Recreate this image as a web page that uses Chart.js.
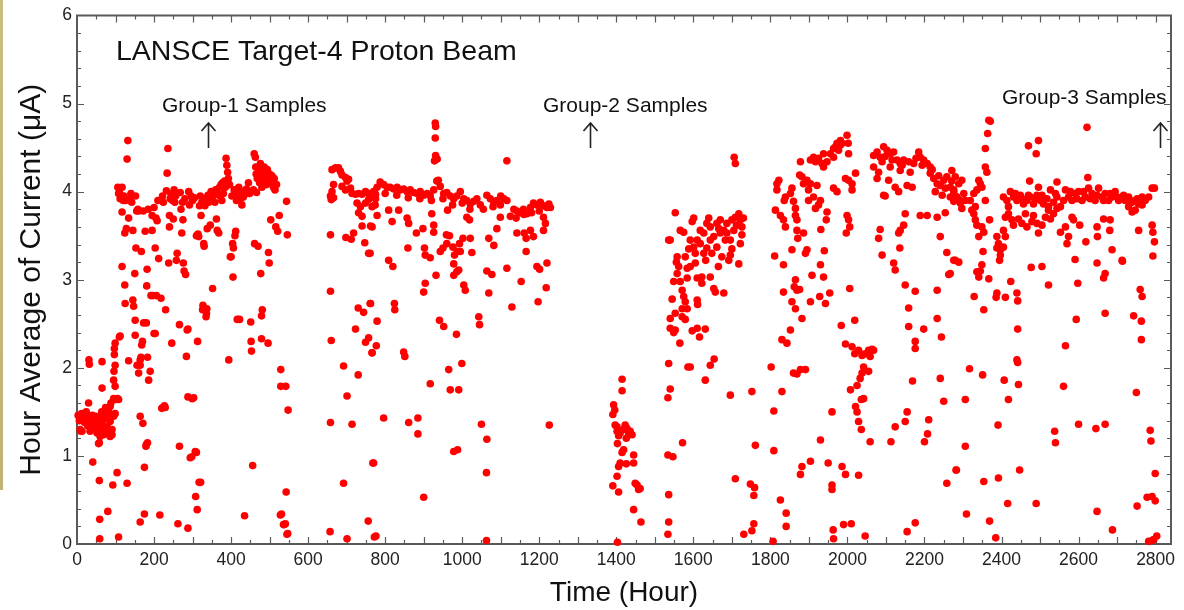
<!DOCTYPE html>
<html>
<head>
<meta charset="utf-8">
<script src="https://cdn.jsdelivr.net/npm/chart.js@4"></script>
<style>
html,body{margin:0;padding:0;background:#fff;}
#wrap{width:1184px;height:610px;position:relative;}
</style>
</head>
<body>
<div id="wrap"><canvas id="c" width="1184" height="610"></canvas></div>
<script>
// ---- data: [hour, hour-average current (uA)] ----
const run1 = [[3,1.46],[6,1.40],[8,1.30],[10,1.28],[12,1.48],[13,1.28],[15,1.44],[17,1.43],[20,1.38],[22,1.39],[24,1.50],[26,1.47],[28,1.34],[30,1.37],[30,1.60],[31,2.09],[32,2.04],[34,1.45],[34,1.28],[36,1.40],[38,1.32],[40,1.46],[41,0.93],[43,1.41],[43,1.33],[46,1.38],[48,1.45],[50,1.30],[52,1.43],[52,1.26],[54,1.35],[56,1.33],[56,1.14],[58,1.15],[58,0.72],[59,0.28],[59,0.06],[60,1.45],[60,1.22],[62,1.40],[64,1.50],[65,1.37],[65,1.77],[65,2.07],[67,1.30],[69,1.48],[69,1.24],[70,1.28],[72,1.42],[74,1.55],[76,1.45],[78,1.52],[78,1.33],[80,0.37],[82,1.50],[84,1.27],[86,1.56],[86,1.39],[86,1.22],[88,1.60],[91,1.30],[91,1.24],[93,0.67],[95,1.45],[95,1.65],[95,1.86],[96,1.96],[97,2.15],[97,2.22],[99,1.48],[99,1.79],[99,2.03],[99,2.28],[101,1.64],[104,0.81],[105,1.65],[108,0.08],[108,1.64],[110,2.35],[112,2.36],[106,4.05],[108,3.98],[110,4.02],[112,3.92],[114,3.96],[117,4.05],[117,3.77],[117,3.15],[120,3.90],[122,3.95],[124,3.53],[124,2.94],[125,2.73],[126,3.90],[128,3.58],[130,4.37],[132,4.58],[130,0.69],[134,3.70],[134,2.08]];
const run2 = [[138,3.92],[140,3.98],[142,3.88],[145,3.56],[145,2.77],[147,2.70],[150,3.07],[151,2.54],[151,2.37],[152,3.95],[153,3.36],[155,3.78],[156,2.03],[158,3.80],[160,1.94],[160,3.78],[164,2.03],[164,2.09],[164,1.45],[164,0.25],[166,2.12],[167,3.32],[168,2.26],[170,2.30],[171,1.37],[172,3.78],[173,2.51],[175,0.34],[175,0.87],[177,3.55],[179,1.11],[180,2.51],[180,1.13],[181,2.93],[182,3.12],[183,1.15],[183,2.12],[185,3.80],[186,1.86],[190,1.96],[192,2.82],[195,3.73],[195,3.56],[197,2.82],[200,3.82],[200,2.39],[203,3.36],[203,2.39],[205,3.70],[206,2.82],[208,3.67],[210,3.90],[212,3.24],[215,0.33],[218,2.79],[220,1.54],[222,3.95],[224,3.88],[223,1.55],[227,1.57],[229,1.55],[230,2.66],[232,4.01],[234,4.21],[236,4.49],[238,3.19],[240,3.60],[240,3.73],[242,3.92],[244,3.97],[246,2.28],[248,3.90],[250,3.69],[252,4.02],[254,3.88],[256,3.95],[258,3.22],[260,3.30],[262,0.23],[266,1.11],[266,2.49],[268,3.99],[270,3.80],[272,3.53],[274,3.88],[275,3.68],[276,3.19],[278,3.10],[280,3.92],[282,3.06],[284,2.13],[286,2.43],[288,0.18],[288,1.67],[288,2.44],[290,4.00],[292,3.85],[294,0.98],[296,3.95],[298,0.99],[299,1.65],[300,3.90]];
const run3 = [[303,1.66],[305,3.93],[307,1.05],[308,0.54],[310,1.04],[310,3.50],[312,0.39],[313,2.30],[314,3.52],[316,3.49],[317,0.70],[318,3.84],[320,3.95],[321,0.70],[322,3.73],[324,3.88],[326,2.66],[327,2.71],[328,3.92],[329,3.41],[330,3.38],[332,3.84],[334,3.90],[335,2.58],[336,2.62],[337,2.67],[338,3.58],[340,3.96],[342,3.88],[344,3.92],[346,3.62],[348,4.00],[350,3.93],[352,2.90],[355,3.96],[358,3.88],[360,4.02],[362,3.69],[364,3.56],[366,3.97],[368,3.53],[370,4.05],[372,3.95],[374,4.08],[376,3.90],[378,4.10],[380,3.98],[383,4.12],[385,4.05],[387,4.38],[389,4.30],[391,4.22],[393,4.15],[394,2.09],[396,4.08],[398,3.26],[400,3.26],[402,3.95],[404,3.41],[405,3.03],[406,3.36],[408,4.02],[410,3.50],[412,3.55],[414,3.90],[416,2.55],[418,3.97],[420,4.05],[422,2.55],[424,3.92],[426,3.96],[428,3.85],[430,4.00],[432,3.94],[435,0.32],[438,3.98],[440,4.03],[445,4.10],[448,3.98],[451,2.52],[452,2.30],[453,2.19],[456,0.89],[458,4.02],[460,4.43],[461,3.41],[463,4.39],[464,4.28],[465,4.20],[466,3.99],[468,4.15],[470,3.38],[472,4.25],[474,4.10],[476,4.32],[477,3.07],[478,4.18],[479,2.59],[479,2.33],[480,4.05],[481,2.66],[482,4.22],[484,4.14],[486,4.28],[488,4.12],[490,4.20],[492,4.08],[494,4.25],[496,2.28],[497,3.31],[498,4.15],[499,3.19],[500,4.20],[503,3.68],[504,4.10],[506,4.18],[508,4.12],[510,4.05],[512,4.15],[514,4.02],[516,3.60],[518,4.08],[521,3.55],[525,3.73],[528,0.33],[529,1.98],[529,1.79],[531,0.34],[536,0.22],[538,0.22],[541,0.23],[542,1.79],[543,0.59],[544,3.89],[545,0.11],[546,3.51],[547,0.12],[548,1.52]];
const run4 = [[657,0.14],[658,3.51],[658,2.87],[658,1.38],[660,2.31],[658,3.95],[660,3.91],[662,4.25],[662,4.00],[666,4.08],[666,3.93],[671,4.27],[679,4.27],[684,4.23],[688,4.19],[688,4.06],[697,4.16],[697,4.02],[701,4.12],[705,4.14],[710,4.04],[714,3.98],[723,3.97],[727,3.87],[731,3.98],[731,3.76],[736,3.83],[740,3.97],[740,3.72],[749,4.00],[749,3.87],[757,3.98],[757,3.91],[766,3.95],[766,3.83],[775,3.97],
[692,2.02],[701,1.68],[714,1.36],[692,0.69],[701,0.06],[698,3.48],[712,3.46],[718,3.53],[730,2.68],[744,2.63],[762,2.73],[723,2.44],[749,2.29],[757,2.34],[730,1.92],[768,0.92],[756,0.26],[772,0.08],[747,3.42],[757,3.30],[740,3.61],[762,3.61],[766,2.17],
[770,4.00],[779,4.05],[787,4.11],[796,4.08],[805,4.05],[813,4.05],[822,4.03],[831,4.05],[839,4.02],[848,4.03],[857,4.00],[865,4.02],[874,3.99],[883,3.98],[891,4.00],[900,3.96],[909,3.98],[917,3.95],[926,4.02],[934,4.12],[943,4.06],[952,3.98],[960,3.99],[969,3.95],[978,3.92],[986,3.95],[995,4.00],[1004,3.92],[1012,3.90],[1021,3.86],[1030,3.89],[1038,3.92],[1047,3.85],[1064,3.96],[1073,3.92],[1082,3.88],[1090,3.90],[1099,3.85],[1108,3.92],[1116,3.90],[1134,3.80],[1142,3.78],[1151,3.76],[1159,3.80],[1168,3.75],[1177,3.82],[1185,3.87],[1194,3.85],[1203,3.88],[1211,3.84],[1220,3.82],[1229,3.82],
[775,3.92],[800,3.98],[830,3.96],[860,3.93],[890,3.92],[920,3.90],[950,3.92],[975,3.85],[1000,3.87],[1020,3.80],[1055,3.80],[1080,3.83],[1100,3.95],[1125,3.72],[1140,3.70],[1160,3.74],[1180,3.76],[1200,3.78],[1225,3.86],
[930,4.78],[931,4.74],[930,4.61],[931,4.41],[935,4.37],[928,4.35],[938,4.13],[1116,4.35],
[774,3.85],[779,3.73],[766,3.60],[761,3.30],[809,3.79],[818,3.66],[835,3.79],[857,3.70],[861,3.64],[881,3.53],[898,3.58],[902,3.36],[904,3.28],[917,3.25],[859,3.36],[921,3.75],[926,3.62],[926,3.54],[943,3.32],[950,3.36],[959,3.51],[967,3.50],[960,3.41],[976,3.37],[980,3.28],[988,3.32],[995,3.32],[993,3.41],[978,3.18],[986,3.09],[991,3.11],[978,3.05],[1002,3.47],[1021,3.47],[1025,3.31],[962,3.79],[1012,3.71],[1019,3.68],[809,3.22],[820,3.15],[904,2.96],[900,2.86],[1004,2.94],[1008,2.88],[932,3.05],[1064,3.10],[1077,3.06],[1069,2.85],[1082,3.39],[1069,3.47],[1090,3.58],[1099,3.71],[1116,3.13],[1129,2.69],[1153,2.98],[1142,3.53],[1161,3.53],[1166,3.47],[1166,3.32],[1185,3.49],[1177,3.56],[1194,3.15],[1201,3.12],[1197,2.75],[1220,3.19],[1218,2.91],[1211,3.56],[1216,3.64],[1211,3.71],
[761,2.73],[779,2.53],[777,2.25],[766,2.17],[824,2.73],[825,2.66],[848,2.18],[851,2.13],[941,2.54],[952,2.47],[985,2.38],[1043,2.58],[1045,2.49],[965,1.98],[999,2.05],[969,1.75],[991,1.75],[917,1.82],[796,1.43],[861,1.38],[885,1.43],[885,1.25],[1050,1.36],[1064,1.19],[978,1.05],[988,1.07],[1063,0.81],[770,0.92],[900,0.53],[776,0.09],[1063,0.04],[1226,1.35]];
const run5 = [[1415,1.87],[1415,1.74],[1393,1.58],[1396,1.52],[1391,1.47],[1397,1.35],[1402,1.28],[1406,1.23],[1423,1.35],[1428,1.31],[1436,1.28],[1441,1.24],[1419,1.30],[1426,1.20],[1403,1.14],[1419,1.07],[1415,1.04],[1410,0.92],[1406,0.88],[1402,0.77],[1391,0.66],[1406,0.59],[1426,0.91],[1445,1.01],[1445,0.92],[1449,0.69],[1454,0.67],[1458,0.62],[1462,0.63],[1445,0.39],[1464,0.25],[1403,0.02],[1402,1.33],[1410,1.26],[1432,1.26]];
const run6 = [[1536,3.45],[1536,2.05],[1534,1.66],[1534,1.01],[1536,0.56],[1536,0.25],[1534,0.11],
[1553,3.76],[1540,3.45],[1566,3.56],[1575,3.54],[1597,3.66],[1601,3.70],[1640,3.70],[1644,3.60],[1661,3.64],[1666,3.58],[1670,3.53],[1679,3.56],[1687,3.53],[1700,3.68],[1709,3.71],[1718,3.75],[1722,3.68],[1726,3.60],[1726,3.51],[1722,3.41],[1718,3.18],
[1558,3.26],[1556,3.20],[1562,3.15],[1558,3.07],[1584,3.13],[1592,3.15],[1605,3.19],[1610,3.02],[1622,3.03],[1622,2.96],[1644,3.03],[1653,2.90],[1657,2.86],[1679,2.85],[1692,3.22],[1696,3.28],[1674,3.26],[1648,3.30],[1635,3.36],[1627,3.30],[1605,3.30],[1601,3.37],[1618,3.41],[1610,3.45],[1579,3.26],[1584,3.02],[1549,2.98],[1566,2.98],[1571,2.88],[1575,2.81],[1579,2.75],[1610,2.77],[1611,2.72],[1545,2.78],[1571,2.67],[1584,2.67],[1553,2.62],[1540,2.56],[1571,2.58],[1579,2.55],[1540,2.45],[1553,2.43],[1549,2.40],[1597,2.42],[1610,2.45],[1631,2.44],[1616,2.35],[1565,2.28],
[1627,3.53],[1653,3.49],[1683,3.45],[1661,3.37],[1592,3.45],[1644,3.45],[1696,3.45],[1705,3.56],[1670,3.68],[1687,3.64],[1635,3.64],[1618,3.56],[1588,3.35],[1632,3.22],[1665,3.15],[1700,3.35],[1712,3.62],[1730,3.70],
[1540,1.76],[1586,2.01],[1592,2.01],[1644,2.03],[1654,2.10],[1631,1.86],[1696,1.69],[1752,1.73],[1572,1.15],[1547,0.99],[1709,0.74],[1748,0.68],[1759,0.64],[1757,0.55],[1761,1.12],[1757,0.23],[1752,0.15],[1731,0.11],[1706,4.39],[1709,4.32]];
const run7 = [[1807,0.03],[1809,1.06],[1809,1.51],[1802,2.01],[1811,3.27],[1817,4.09],[1822,4.13],[1817,4.02],[1813,3.79],[1826,3.73],[1834,3.68],[1839,3.60],[1836,3.90],[1839,3.94],[1834,3.17],[1834,2.86],[1830,2.32],[1843,2.28],[1852,2.43],[1826,0.50],[1841,0.35],[1841,0.20],[1830,1.73],[1856,4.04],[1852,3.98],[1860,3.89],[1865,3.81],[1869,3.68],[1869,3.56],[1871,3.47],[1865,3.73],[1856,3.34],[1865,3.00],[1862,2.92],[1869,2.88],[1876,2.89],[1856,2.75],[1865,2.67],[1882,2.56],[1860,1.94],[1869,1.93],[1878,1.98],[1891,1.98],[1878,4.34],[1882,4.17],[1876,4.19],[1886,4.09],[1895,4.13],[1899,4.02],[1904,4.09],[1899,3.90],[1912,3.94],[1917,3.81],[1925,3.85],[1930,3.90],[1921,4.07],[1886,3.53],[1895,3.34],[1891,3.30],[1904,4.36],[1912,4.39],[1917,4.34],[1925,4.38],[1938,4.43],[1934,4.32],[1938,4.28],[1947,4.34],[1956,4.43],[1964,4.49],[1969,4.51],[1973,4.55],[1977,4.47],[1982,4.53],[1964,4.39],[1982,4.58],[1986,4.55],[1999,4.64],[2002,4.55],[2003,4.43],[1930,3.17],[1938,3.03],[1928,2.81],[1943,2.73],[1904,2.75],[1954,2.85],[1908,3.05],[1945,3.68],[1947,3.77],[1940,3.33],[1931,3.57],[1964,4.04],[1973,4.00],[1999,3.73],[2003,3.68],[2006,3.60],[1997,3.53],[1995,4.15],[2003,4.13],[2012,4.09],[2021,4.21],[2012,4.02],[2006,2.90],[2019,2.54],[1984,2.48],[1882,0.88],[1878,0.79],[1904,0.94],[1930,1.18],[1950,0.92],[1960,1.50],[1960,0.67],[1960,0.62],[1963,0.16],[1964,0.06],[1986,0.88],[1995,0.79],[1990,0.22],[2010,0.23],[2029,0.78],[2046,0.09],
[1995,2.27],[2012,2.24],[2019,2.16],[2029,2.20],[2038,2.14],[2046,2.16],[2055,2.20],[2064,2.21],[2068,2.20],[2059,2.13],[2055,1.96],[2042,2.01],[2038,1.94],[2033,1.88],[2025,1.80],[2008,1.75],[2036,1.64],[2042,1.65],[2021,1.56],[2025,1.50],[2029,1.39],[2036,1.30],[2059,1.16]];
const run8 = [[2068,4.41],[2077,4.45],[2085,4.39],[2094,4.51],[2103,4.47],[2111,4.43],[2120,4.45],[2129,4.36],[2137,4.32],[2146,4.36],[2159,4.34],[2172,4.32],[2185,4.45],[2189,4.39],[2198,4.36],[2207,4.32],[2215,4.28],[2224,4.15],[2233,4.09],[2241,4.07],[2250,4.13],[2258,4.17],[2267,4.05],[2276,4.00],[2284,3.94],[2293,3.87],[2068,4.28],[2081,4.22],[2111,4.28],[2077,4.15],[2107,4.13],[2124,4.05],[2133,4.00],[2155,4.07],[2168,4.05],[2090,4.34],[2137,4.24],[2163,4.22],[2215,4.21],[2228,4.00],[2246,3.96],[2267,3.94],[2276,3.89],[2098,4.40],[2116,4.36],[2142,4.30],[2178,4.38],[2194,4.30],[2220,4.25],[2237,4.18],[2254,4.04],[2271,4.12],
[2094,3.96],[2098,3.95],[2150,3.75],[2189,3.73],[2207,3.73],[2233,3.71],[2254,3.76],[2137,3.56],[2133,3.53],[2146,3.62],[2085,3.57],[2081,3.47],[2241,3.49],[2090,3.28],[2120,3.19],[2124,3.11],[2136,3.36],[2258,3.31],[2280,3.22],[2263,3.06],[2150,2.94],[2176,2.87],[2233,2.88],[2159,2.68],[2159,2.47],[2233,2.56],[2244,2.35],[2198,2.44],[2176,2.30],[2176,2.22],[2169,1.85],[2241,1.88],[2250,1.62],[2155,1.50],[2150,1.39],[2124,1.33],[2113,1.16],[2211,1.41],[2208,1.25],[2200,1.16],[2282,0.84],[2258,0.69],[2176,0.24],[2155,0.14]];
const run9 = [[2271,4.24],[2280,4.17],[2289,4.09],[2297,4.13],[2302,3.98],[2284,3.94],[2293,3.90],[2276,4.02],[2306,3.90],[2297,3.81],[2276,3.22],[2289,3.20],[2267,3.07],
[2319,3.90],[2328,3.98],[2332,3.83],[2336,4.02],[2341,4.13],[2345,4.09],[2349,4.05],[2323,3.79],[2328,3.75],[2332,3.68],[2336,3.62],[2341,3.49],[2349,3.60],[2354,3.54],[2358,3.90],[2358,4.28],[2358,4.49],[2362,4.22],[2364,4.66],[2367,4.81],[2371,4.80],[2352,3.32],[2336,3.09],[2341,3.03],[2345,3.10],[2349,3.17],[2354,2.66],[2329,2.81],[2367,3.01],[2369,3.68],
[2317,1.99],[2351,1.92],[2306,1.64],[2306,1.11],[2283,0.84],[2354,0.71],[2309,0.34],[2369,0.26],[2385,0.07],
[2388,3.49],[2392,3.41],[2388,3.36],[2397,3.34],[2397,3.28],[2395,3.22],[2405,3.37],[2410,3.49],[2405,3.56],[2388,2.85],[2386,2.80],[2410,2.80],[2424,2.98],[2440,2.85],[2442,2.76],[2442,2.44],[2440,2.09],[2442,2.06],[2444,1.81],[2407,1.86],[2418,1.64],[2391,1.35],[2392,0.75],[2416,0.46],[2447,0.84],[2490,0.46],
[2405,3.94],[2414,3.90],[2423,4.00],[2431,3.94],[2440,3.90],[2449,3.96],[2457,3.86],[2466,3.90],[2475,3.94],[2483,3.86],[2492,3.96],[2501,3.90],[2509,3.86],[2518,3.92],[2527,4.02],[2535,3.88],[2544,3.94],[2553,3.83],[2566,4.02],[2574,3.94],[2583,3.90],[2591,3.98],[2600,4.00],[2609,3.90],[2617,3.94],[2626,4.04],[2635,3.98],[2643,3.90],[2652,4.04],[2661,3.94],[2669,3.98],[2678,3.90],[2687,3.94],[2695,4.00],[2704,3.90],[2713,3.94],[2721,3.90],[2730,3.94],[2739,3.88],[2747,3.90],[2756,3.86],[2765,3.94],[2773,3.90],[2782,3.94],[2791,4.04],[2797,4.04],
[2418,3.83],[2436,3.98],[2453,3.92],[2470,3.96],[2488,3.92],[2505,3.96],[2522,3.83],[2540,3.98],[2561,3.90],[2579,4.00],[2596,3.92],[2613,4.00],[2630,3.92],[2648,3.96],[2665,3.90],[2682,3.98],[2700,3.94],[2717,3.96],[2734,3.90],[2752,3.92],[2769,3.90],
[2410,3.71],[2418,3.75],[2427,3.68],[2431,3.62],[2444,3.69],[2453,3.64],[2462,3.75],[2466,3.60],[2479,3.66],[2483,3.73],[2492,3.64],[2496,3.53],[2505,3.62],[2514,3.71],[2522,3.79],[2527,3.69],[2535,3.75],[2544,3.81],[2553,3.54],[2566,3.60],[2570,3.41],[2574,3.49],[2583,3.71],[2587,3.68],[2603,3.62],[2619,3.43],[2648,3.60],[2649,3.49],[2665,3.69],[2681,3.56],[2682,3.68],[2687,3.34],[2713,3.22],[2730,3.83],[2739,3.77],[2747,3.79],[2756,3.56],[2765,3.85],[2791,3.62],[2793,3.54],[2797,3.43],[2793,3.27],
[2470,4.52],[2490,4.43],[2496,4.58],[2473,4.12],[2496,4.05],[2544,4.11],[2622,4.73],[2624,4.16],[2591,3.23],[2505,3.15],[2477,3.14],[2522,2.94],[2648,3.19],[2665,3.02],[2669,3.07],[2669,2.62],[2714,3.21],[2598,2.96],[2594,2.55],[2566,2.25],[2561,1.79],[2760,2.89],[2765,2.81],[2743,2.59],[2763,2.53],[2763,2.32],[2750,1.72],[2600,1.36],[2645,1.31],[2669,1.36],[2538,1.28],[2540,1.15],[2786,1.29],[2788,1.17],[2799,0.80],[2778,0.53],[2791,0.54],[2799,0.49],[2752,0.43],[2648,0.37],[2688,0.16],[2782,0.03],[2791,0.04],[2795,0.05],[2803,0.09]];

const xTickValues = [0,200,400,600,800,1000,1200,1400,1600,1800,2000,2200,2400,2600,2800];
const yTickValues = [0,1,2,3,4,5,6];
const xRange = [0, 2840];
const yRange = [0, 6];

const chartTitle = 'LANSCE Target-4 Proton Beam';
const groupLabels = ['Group-1 Samples','Group-2 Samples','Group-3 Samples'];
const groupArrowHours = [341, 1333, 2812];
const xTitle = 'Time (Hour)';
const yTitle = 'Hour Average of Current (\u03BCA)';

// ---- chart ----
const allPoints = [...run1,...run2,...run3,...run4,...run5,...run6,...run7,...run8,...run9].map(p => ({x:p[0], y:p[1]}));
const FONT = '"Liberation Sans", Arial, Helvetica, sans-serif';
const AXIS_COL = '#5a5a5a';

const decor = {
  id: 'decor',
  beforeDraw(chart) {
    const ctx = chart.ctx;
    ctx.save();
    const g = ctx.createLinearGradient(0,0,0,490);
    g.addColorStop(0,'#cbbd80'); g.addColorStop(1,'#c2b374');
    ctx.fillStyle = g;
    ctx.fillRect(0,0,3,490);
    ctx.restore();
  },
  beforeDatasetsDraw(chart) {
    const {ctx, chartArea:a, scales:{x, y}} = chart;
    ctx.save();
    ctx.strokeStyle = AXIS_COL;
    ctx.lineWidth = 1.2;
    ctx.beginPath();
    for (let h = 50; h < xRange[1]; h += 50) {
      const px = Math.round(x.getPixelForValue(h)) + 0.5;
      const len = (h % 100 === 0) ? 7 : 4;
      ctx.moveTo(px, a.bottom); ctx.lineTo(px, a.bottom - len);
      ctx.moveTo(px, a.top); ctx.lineTo(px, a.top + len);
    }
    for (let k = 1; k < 30; k++) {
      const v = k * 0.2;
      const py = Math.round(y.getPixelForValue(v)) + 0.5;
      const len = (k % 5 === 0) ? 7 : 4;
      ctx.moveTo(a.left, py); ctx.lineTo(a.left + len, py);
      ctx.moveTo(a.right, py); ctx.lineTo(a.right - len, py);
    }
    ctx.stroke();
    ctx.lineWidth = 2;
    ctx.strokeRect(a.left, a.top, a.right - a.left, a.bottom - a.top);
    ctx.restore();
  },
  afterDraw(chart) {
    const {ctx, scales:{x}} = chart;
    ctx.save();
    ctx.fillStyle = '#111';
    ctx.textBaseline = 'alphabetic';
    ctx.textAlign = 'left';
    ctx.font = '28.5px ' + FONT;
    ctx.fillText(chartTitle, 116, 60);
    ctx.font = '21px ' + FONT;
    ctx.fillText(groupLabels[0], 162, 112);
    ctx.fillText(groupLabels[1], 543, 112);
    ctx.fillText(groupLabels[2], 1002, 104);
    ctx.strokeStyle = '#222';
    ctx.lineWidth = 1.6;
    groupArrowHours.forEach(h => {
      const px = Math.round(x.getPixelForValue(h)) + 0.5;
      ctx.beginPath();
      ctx.moveTo(px, 148); ctx.lineTo(px, 123);
      ctx.moveTo(px - 7, 131); ctx.lineTo(px, 123); ctx.lineTo(px + 7, 131);
      ctx.stroke();
    });
    ctx.restore();
  }
};

new Chart(document.getElementById('c'), {
  type: 'scatter',
  data: { datasets: [{
    data: allPoints,
    backgroundColor: '#ff0000',
    borderWidth: 0,
    pointRadius: 3.8,
    pointHoverRadius: 3.8,
    clip: false
  }]},
  options: {
    responsive: false,
    animation: false,
    events: [],
    layout: { padding: { top: 15, right: 13, left: 0, bottom: 0 } },
    plugins: { legend: { display: false }, tooltip: { enabled: false } },
    scales: {
      x: {
        type: 'linear', min: xRange[0], max: xRange[1],
        border: { display: false },
        grid: { display: false, drawTicks: false },
        afterBuildTicks: s => { s.ticks = xTickValues.map(v => ({value: v})); },
        afterFit: s => { s.height = 66; },
        ticks: { padding: 6, color: '#222', font: { family: FONT, size: 17.5 }, maxRotation: 0, autoSkip: false, callback: v => String(v) },
        title: { display: true, text: xTitle, color: '#111', font: { family: FONT, size: 28 }, padding: { top: 0, bottom: 0 } }
      },
      y: {
        type: 'linear', min: yRange[0], max: yRange[1],
        border: { display: false },
        grid: { display: false, drawTicks: false },
        afterBuildTicks: s => { s.ticks = yTickValues.map(v => ({value: v})); },
        afterFit: s => { s.width = 77; },
        ticks: { padding: 5, color: '#222', font: { family: FONT, size: 17.5 }, autoSkip: false, callback: v => String(v) },
        title: { display: true, text: yTitle, color: '#111', font: { family: FONT, size: 30 }, padding: { top: 14, bottom: 0 } }
      }
    }
  },
  plugins: [decor]
});
</script>
</body>
</html>
